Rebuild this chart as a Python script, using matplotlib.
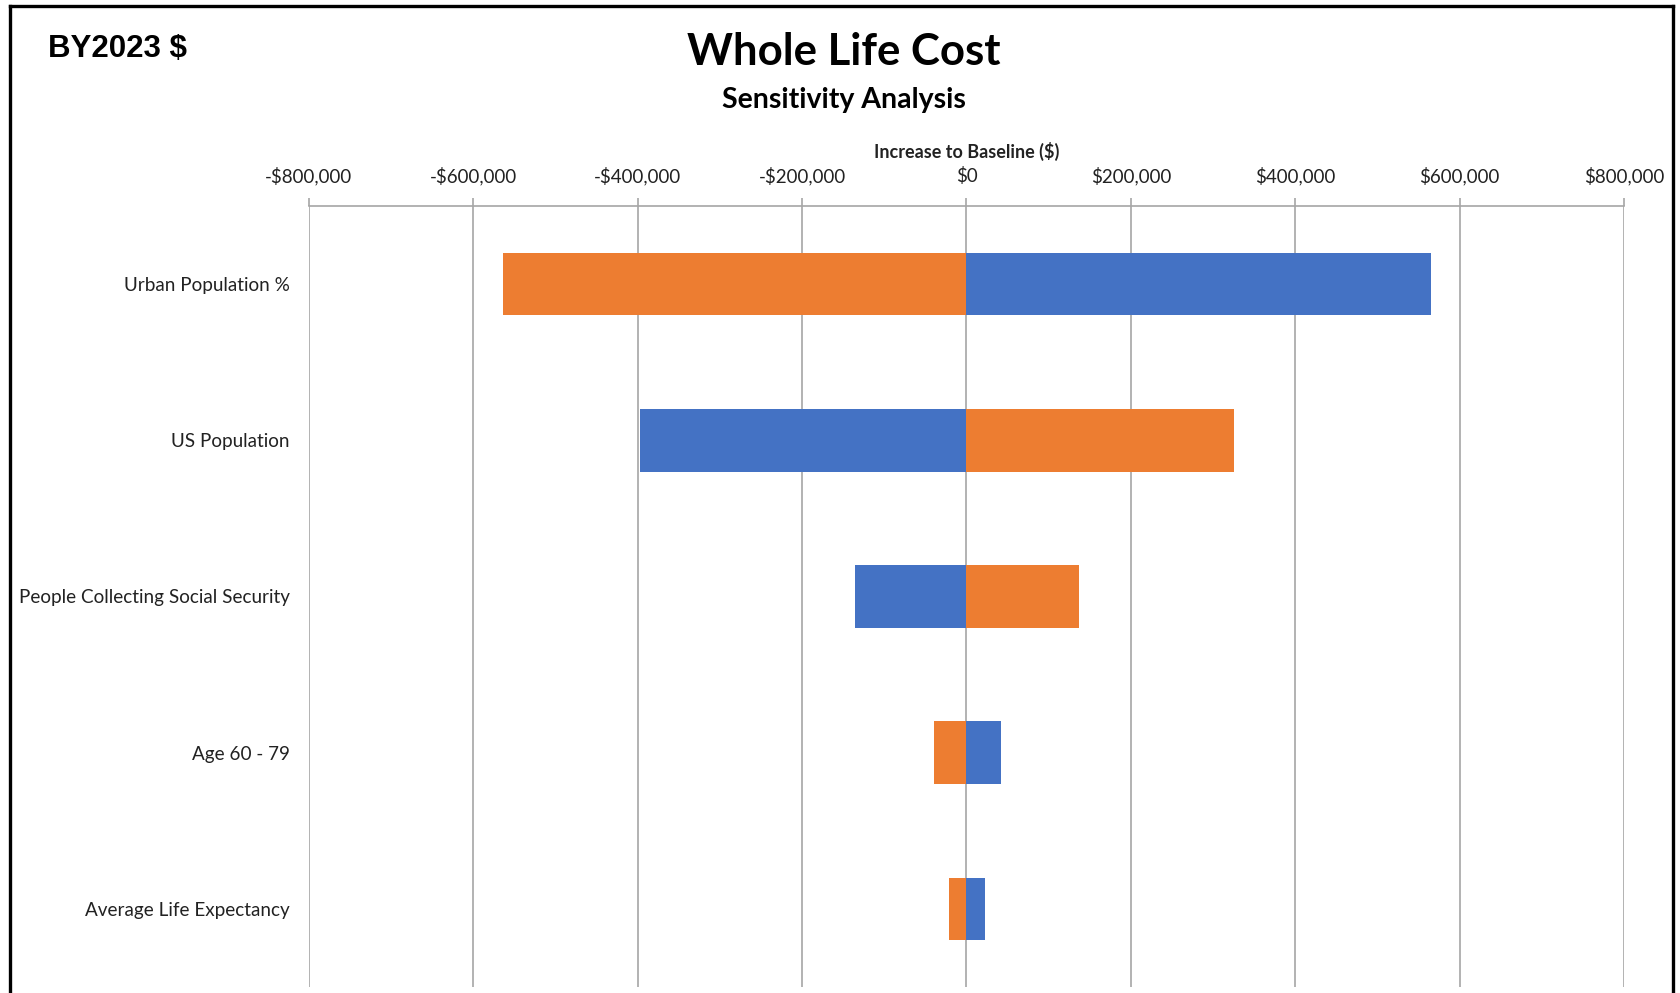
import matplotlib
matplotlib.use("Agg")
import matplotlib.pyplot as plt
from matplotlib.lines import Line2D
from matplotlib.ticker import FuncFormatter

# tornado data
categories = ["Urban Population %", "US Population", "People Collecting Social Security",
              "Age 60 - 79", "Average Life Expectancy"]
blue_vals = [565000, -397000, -136000, 42000, 22000]
orange_vals = [-564000, 325000, 137000, -40000, -21000]
xticks = [-800000, -600000, -400000, -200000, 0, 200000, 400000, 600000, 800000]

BLUE = "#4472C4"
ORANGE = "#ED7D31"
GRID = "#A6A6A6"

plt.rcParams['font.family'] = ['Lato', 'DejaVu Sans']

W, H = 1681, 993
fig = plt.figure(figsize=(W / 100, H / 100), dpi=100)
ax = fig.add_axes([309 / W, 1 - 987 / H, (1624 - 309) / W, (987 - 206) / H])

ypos = list(range(len(categories)))
ax.barh(ypos, blue_vals, height=0.4, color=BLUE, zorder=3)
ax.barh(ypos, orange_vals, height=0.4, color=ORANGE, zorder=3)

ax.set_ylim(len(categories) - 0.5, -0.5)
ax.set_yticks(ypos)
ax.set_yticklabels(categories, fontsize=13.6, color="#222222")
ax.tick_params(axis='y', length=0, pad=14)

ax.set_xlim(-800000, 800000)
ax.set_xticks(xticks)
ax.xaxis.tick_top()
ax.xaxis.set_major_formatter(FuncFormatter(lambda v, p: ("-$" if v < 0 else "$") + f"{abs(int(v)):,}"))
ax.tick_params(axis='x', direction='out', length=6, width=1.2, color=GRID, labelsize=13.5,
               labelcolor="#222222", pad=9)
ax.grid(axis='x', color=GRID, linewidth=1.2, zorder=0)
ax.set_axisbelow(True)

for s in ['left', 'right', 'bottom']:
    ax.spines[s].set_visible(False)
ax.spines['top'].set_color(GRID)
ax.spines['top'].set_linewidth(1.2)

# titles
fig.text(844 / W, 1 - 52 / H, "Whole Life Cost", ha='center', va='center',
         fontsize=31.5, fontweight='bold')
fig.text(844 / W, 1 - 100 / H, "Sensitivity Analysis", ha='center', va='center',
         fontsize=20.5, fontweight='bold')
fig.text(967 / W, 1 - 151 / H, "Increase to Baseline ($)", ha='center', va='center',
         fontsize=13, fontweight='bold', color="#222222")
fig.text(48 / W, 1 - 49 / H, "BY2023 $", ha='left', va='center',
         fontsize=22.5, fontweight='bold', family='Liberation Sans')

# outer frame (no bottom edge visible)
for xs, ys in [([10, 10], [993, 6]), ([10, 1673], [6, 6]), ([1673, 1673], [6, 993])]:
    fig.add_artist(Line2D([x / W for x in xs], [1 - y / H for y in ys],
                          color='black', linewidth=2.4, transform=fig.transFigure))

fig.savefig("out.png", dpi=100)
